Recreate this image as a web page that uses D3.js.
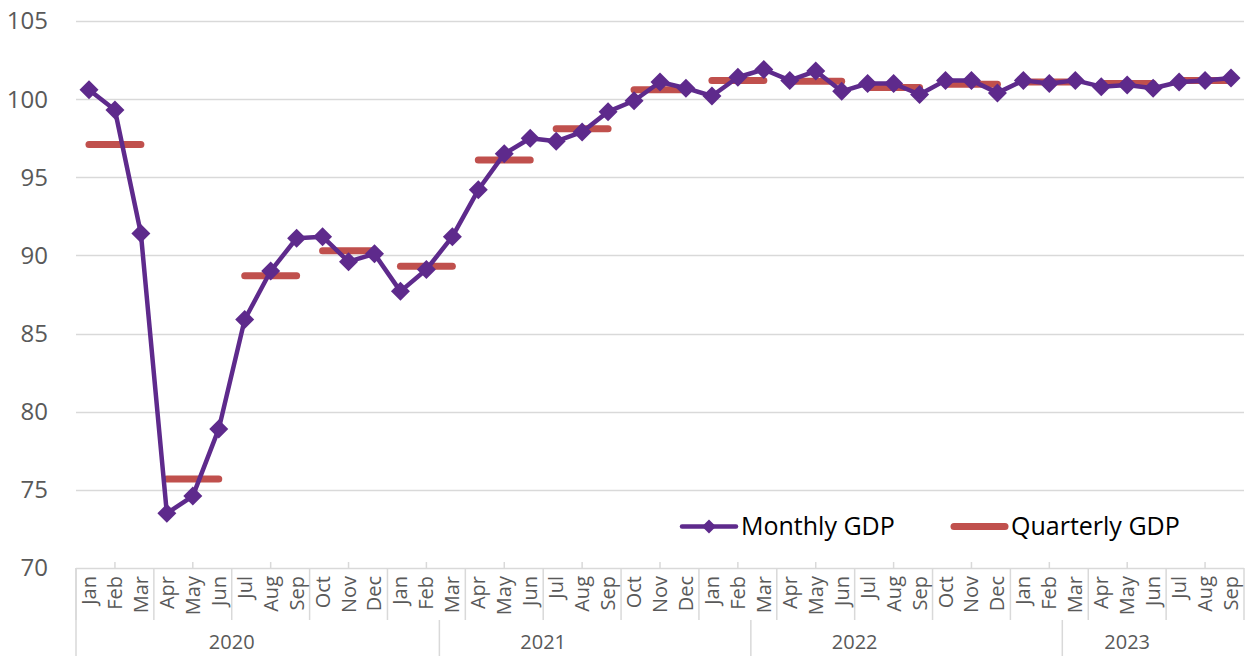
<!DOCTYPE html>
<html>
<head>
<meta charset="utf-8">
<script src="https://cdn.jsdelivr.net/npm/d3@7"></script>
<style>
  html, body { margin: 0; padding: 0; background: #fff; }
  svg { display: block; font-family: "Open Sans", sans-serif; }
</style>
</head>
<body>
<svg id="chart"></svg>
<script>
// index values, Jan 2020 .. Sep 2023
const years = ["2020", "2021", "2022", "2023"];
const monthNames = ["Jan", "Feb", "Mar", "Apr", "May", "Jun", "Jul", "Aug", "Sep", "Oct", "Nov", "Dec"];
const monthlyGDP = [
  100.6, 99.3, 91.4, 73.5, 74.6, 78.9, 85.9, 89.0, 91.1, 91.2, 89.6, 90.1,
  87.7, 89.1, 91.2, 94.2, 96.5, 97.5, 97.3, 97.9, 99.2, 99.9, 101.1, 100.7,
  100.2, 101.4, 101.9, 101.2, 101.8, 100.5, 101.0, 101.0, 100.3, 101.2, 101.2, 100.4,
  101.2, 101.0, 101.2, 100.8, 100.9, 100.7, 101.1, 101.2, 101.35
];
const quarterlyGDP = [97.1, 75.7, 88.7, 90.3, 89.3, 96.1, 98.1, 100.6, 101.2, 101.15, 100.75, 100.95, 101.1, 101.0, 101.2];
const yTicks = [70, 75, 80, 85, 90, 95, 100, 105];

const width = 1248, height = 656;
const gridColor = "#d9d9d9", textColor = "#595959";
const purple = "#5e2a8c", red = "#c0504d";

const months = monthlyGDP.map((v, i) => ({
  key: i,
  year: years[Math.floor(i / 12)],
  month: monthNames[i % 12],
  value: v
}));

const svg = d3.select("#chart").attr("width", width).attr("height", height);

const x = d3.scaleBand().domain(months.map(d => d.key)).range([76, 1244]).padding(0);
const y = d3.scaleLinear().domain([70, 105]).range([568, 21]);
const cx = i => x(i) + x.bandwidth() / 2;

// gridlines
svg.append("g")
  .selectAll("line")
  .data(yTicks)
  .join("line")
  .attr("x1", 76).attr("x2", 1244)
  .attr("y1", d => Math.round(y(d)) + 0.5).attr("y2", d => Math.round(y(d)) + 0.5)
  .attr("stroke", gridColor).attr("stroke-width", 1.5);

// y axis labels
svg.append("g")
  .selectAll("text")
  .data(yTicks)
  .join("text")
  .attr("x", 48).attr("y", d => y(d))
  .attr("dy", "0.35em")
  .attr("text-anchor", "end")
  .attr("fill", textColor)
  .style("font-size", "24px")
  .text(d => d);

// category axis (month / quarter / year levels)
const axisG = svg.append("g").attr("stroke", gridColor).attr("stroke-width", 1.5);
const quarterStarts = d3.range(0, months.length + 1, 3);
axisG.selectAll(".qline")
  .data(quarterStarts)
  .join("line")
  .attr("x1", i => i < months.length ? x(i) : x.range()[1])
  .attr("x2", i => i < months.length ? x(i) : x.range()[1])
  .attr("y1", 568).attr("y2", 620);
axisG.selectAll(".tick")
  .data(d3.range(1, months.length, 3))
  .join("line")
  .attr("x1", i => cx(i)).attr("x2", i => cx(i))
  .attr("y1", 562).attr("y2", 568);
axisG.append("line")
  .attr("x1", x(0)).attr("x2", x(0))
  .attr("y1", 568).attr("y2", height);
axisG.selectAll(".yline")
  .data([14, 26, 38])
  .join("line")
  .attr("x1", i => x(i)).attr("x2", i => x(i))
  .attr("y1", 620).attr("y2", height);

svg.append("g")
  .selectAll("text")
  .data(months)
  .join("text")
  .attr("transform", d => `translate(${cx(d.key)},576) rotate(-90)`)
  .attr("dy", "0.35em")
  .attr("text-anchor", "end")
  .attr("fill", textColor)
  .style("font-size", "20px")
  .text(d => d.month);

svg.append("g")
  .selectAll("text")
  .data(years)
  .join("text")
  .attr("x", yr => {
    const idx = months.filter(d => d.year === yr).map(d => d.key);
    return (x(idx[0]) + x(idx[idx.length - 1]) + x.bandwidth()) / 2;
  })
  .attr("y", 642)
  .attr("dy", "0.35em")
  .attr("text-anchor", "middle")
  .attr("fill", textColor)
  .style("font-size", "20px")
  .text(d => d);

// quarterly segments
svg.append("g")
  .selectAll("line")
  .data(quarterlyGDP)
  .join("line")
  .attr("x1", (d, q) => cx(q * 3))
  .attr("x2", (d, q) => cx(q * 3 + 2))
  .attr("y1", d => y(d)).attr("y2", d => y(d))
  .attr("stroke", red).attr("stroke-width", 7)
  .attr("stroke-linecap", "round");

// monthly line
const line = d3.line().x(d => cx(d.key)).y(d => y(d.value));
svg.append("path")
  .datum(months)
  .attr("d", line)
  .attr("fill", "none")
  .attr("stroke", purple)
  .attr("stroke-width", 4.5)
  .attr("stroke-linejoin", "round");

const diamond = s => `M0,${-s}L${s},0L0,${s}L${-s},0Z`;
svg.append("g")
  .selectAll("path")
  .data(months)
  .join("path")
  .attr("transform", d => `translate(${cx(d.key)},${y(d.value)})`)
  .attr("d", diamond(9.5))
  .attr("fill", purple);

// legend
const legend = svg.append("g").attr("transform", "translate(0,526.5)");
legend.append("line")
  .attr("x1", 682).attr("x2", 736).attr("y1", 0).attr("y2", 0)
  .attr("stroke", purple).attr("stroke-width", 4.5).attr("stroke-linecap", "round");
legend.append("path")
  .attr("transform", "translate(709,0)")
  .attr("d", diamond(7))
  .attr("fill", purple);
legend.append("text")
  .attr("x", 741).attr("y", 0).attr("dy", "0.35em")
  .attr("fill", "#000")
  .style("font-size", "25px")
  .text("Monthly GDP");
legend.append("line")
  .attr("x1", 954).attr("x2", 1005).attr("y1", 0).attr("y2", 0)
  .attr("stroke", red).attr("stroke-width", 7).attr("stroke-linecap", "round");
legend.append("text")
  .attr("x", 1011).attr("y", 0).attr("dy", "0.35em")
  .attr("fill", "#000")
  .style("font-size", "25px")
  .text("Quarterly GDP");
</script>
</body>
</html>
